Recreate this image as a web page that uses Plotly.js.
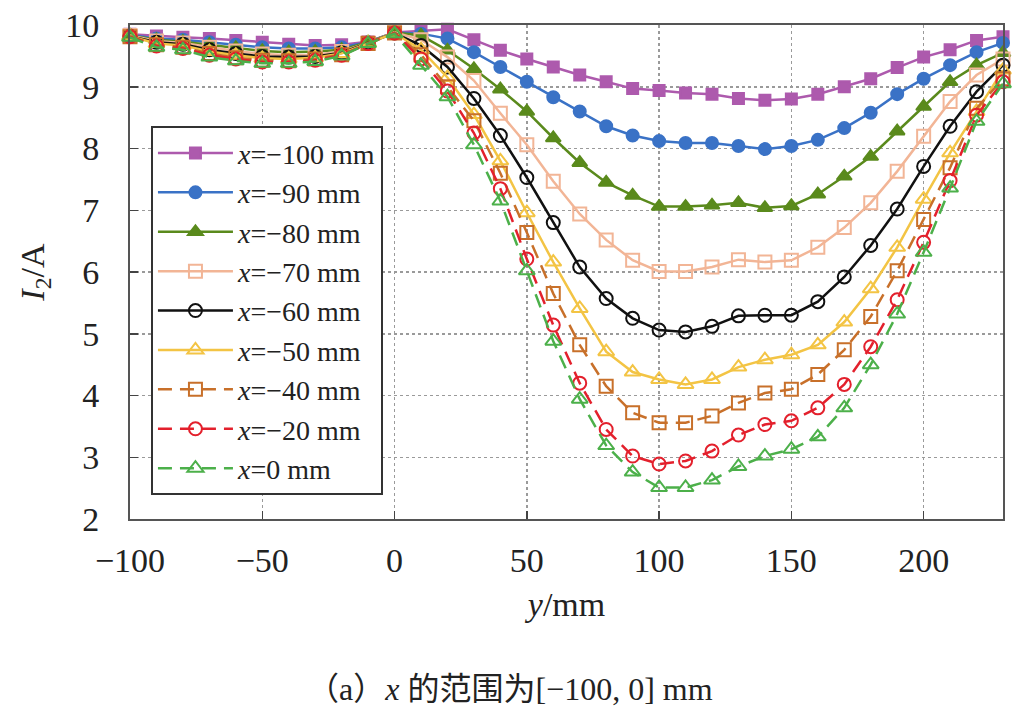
<!DOCTYPE html>
<html>
<head>
<meta charset="utf-8">
<script src="https://cdn.plot.ly/plotly-3.0.1.min.js"></script>
<style>html,body{margin:0;padding:0;background:#fff;}#chart{width:1031px;height:726px;}</style>
</head>
<body>
<div id="chart"></div>
<script>
// y positions (mm)
const yPos = [-100,-90,-80,-70,-60,-50,-40,-30,-20,-10,0,10,20,30,40,50,60,70,80,90,100,110,120,130,140,150,160,170,180,190,200,210,220,230];

// I2 (A) for each x position
const x_m100 = [9.85,9.82,9.80,9.78,9.75,9.72,9.69,9.67,9.68,9.73,9.88, 9.90,9.93,9.76,9.59,9.45,9.32,9.19,9.08,8.97,8.94,8.90,8.88,8.81,8.78,8.80,8.88,9.00,9.13,9.31,9.48,9.60,9.75,9.81];
const x_m90  = [9.84,9.78,9.76,9.72,9.68,9.64,9.62,9.62,9.64,9.72,9.88, 9.86,9.78,9.56,9.32,9.08,8.83,8.60,8.36,8.21,8.12,8.09,8.09,8.04,7.99,8.04,8.14,8.33,8.58,8.88,9.13,9.35,9.56,9.71];
const x_m80  = [9.83,9.76,9.73,9.68,9.63,9.58,9.56,9.57,9.60,9.72,9.88, 9.83,9.59,9.29,8.96,8.60,8.17,7.77,7.45,7.24,7.06,7.06,7.08,7.12,7.04,7.07,7.26,7.55,7.87,8.28,8.68,9.08,9.35,9.55];
const x_m70  = [9.83,9.74,9.71,9.64,9.58,9.53,9.51,9.52,9.57,9.71,9.88, 9.76,9.48,9.10,8.57,8.06,7.47,6.94,6.52,6.19,6.01,6.01,6.08,6.20,6.16,6.19,6.40,6.72,7.12,7.63,8.20,8.76,9.19,9.45];
const x_m60  = [9.82,9.72,9.69,9.60,9.54,9.49,9.48,9.49,9.55,9.71,9.87, 9.67,9.32,8.81,8.21,7.53,6.80,6.08,5.57,5.25,5.06,5.03,5.12,5.29,5.30,5.30,5.52,5.92,6.43,7.02,7.71,8.36,8.92,9.35];
const x_m50  = [9.82,9.70,9.67,9.57,9.51,9.46,9.45,9.47,9.54,9.71,9.87, 9.60,9.15,8.55,7.80,6.96,6.16,5.41,4.71,4.38,4.26,4.18,4.26,4.46,4.58,4.66,4.82,5.19,5.73,6.40,7.18,7.93,8.60,9.27];
const x_m40  = [9.81,9.68,9.64,9.54,9.47,9.43,9.42,9.45,9.52,9.70,9.87, 9.52,9.00,8.45,7.60,6.64,5.65,4.82,4.15,3.72,3.56,3.56,3.67,3.88,4.04,4.10,4.34,4.74,5.28,6.02,6.85,7.69,8.65,9.13];
const x_m20  = [9.81,9.66,9.62,9.51,9.45,9.40,9.40,9.43,9.51,9.70,9.87, 9.45,8.93,8.25,7.35,6.21,5.14,4.20,3.45,3.02,2.89,2.94,3.10,3.36,3.53,3.59,3.80,4.18,4.79,5.55,6.48,7.48,8.54,9.08];
const x_0    = [9.80,9.64,9.60,9.48,9.42,9.38,9.38,9.41,9.50,9.70,9.86, 9.35,8.84,8.06,7.15,6.02,4.88,3.94,3.19,2.76,2.51,2.51,2.63,2.85,3.02,3.13,3.33,3.80,4.50,5.32,6.32,7.36,8.44,9.05];

const seriesNames = ['<i>x</i>=−100 mm','<i>x</i>=−90 mm','<i>x</i>=−80 mm','<i>x</i>=−70 mm','<i>x</i>=−60 mm','<i>x</i>=−50 mm','<i>x</i>=−40 mm','<i>x</i>=−20 mm','<i>x</i>=0 mm'];
const xTickVals = [-100,-50,0,50,100,150,200];
const yTickVals = [2,3,4,5,6,7,8,9,10];

const seriesData = [x_m100,x_m90,x_m80,x_m70,x_m60,x_m50,x_m40,x_m20,x_0];
const styles = [
  {color:'#ad5aad', symbol:'square', dash:'solid', size:11},
  {color:'#3a72c6', symbol:'circle', dash:'solid', size:12},
  {color:'#5a8a1c', symbol:'triangle-up', dash:'solid', size:13},
  {color:'#f2b596', symbol:'square-open', dash:'solid', size:13},
  {color:'#111111', symbol:'circle-open', dash:'solid', size:13},
  {color:'#f3c444', symbol:'triangle-up-open', dash:'solid', size:14},
  {color:'#c8702a', symbol:'square-open', dash:'14px,8px', size:13},
  {color:'#e3202c', symbol:'circle-open', dash:'14px,8px', size:13},
  {color:'#4cb04a', symbol:'triangle-up-open', dash:'14px,8px', size:14}
];

const serif = '"Liberation Serif", "Times New Roman", "Noto Sans CJK SC", serif';

const traces = seriesData.map((vals, i) => ({
  type:'scatter', mode:'lines+markers', name: seriesNames[i],
  x: yPos, y: vals,
  line:{color: styles[i].color, width:2.5, dash: styles[i].dash},
  marker:{symbol: styles[i].symbol, size: styles[i].size, color: styles[i].color,
          line:{color: styles[i].color, width:2}},
  cliponaxis:false
}));

const layout = {
  width:1031, height:726,
  paper_bgcolor:'#fff', plot_bgcolor:'#fff',
  margin:{l:130, r:28, t:25, b:207},
  font:{family: serif, color:'#222', size:34},
  xaxis:{
    range:[-100,230], tickvals:xTickVals, ticks:'inside', ticklen:8, tickwidth:1.5, tickcolor:'#444',
    showline:true, linecolor:'#555', linewidth:2, mirror:true,
    showgrid:true, gridcolor:'#9a9a9a', griddash:'dot', gridwidth:1.5,
    zeroline:false, ticklabelstandoff:10,
    tickfont:{size:34, family: serif, color:'#222'},
    title:{text:'<i>y</i>/mm', font:{size:34, family: serif, color:'#222'}, standoff:14}
  },
  yaxis:{
    range:[2,10], tickvals:yTickVals, ticks:'inside', ticklen:8, tickwidth:1.5, tickcolor:'#444',
    showline:true, linecolor:'#555', linewidth:2, mirror:true,
    showgrid:true, gridcolor:'#9a9a9a', griddash:'dot', gridwidth:1.5,
    zeroline:false, ticklabelstandoff:22,
    tickfont:{size:34, family: serif, color:'#222'},
    title:{text:'<i>I</i><sub>2</sub>/A', font:{size:34, family: serif, color:'#222'}, standoff:10}
  },
  legend:{
    x:0.024, y:0.795, xanchor:'left', yanchor:'top',
    bgcolor:'#fff', bordercolor:'#333', borderwidth:2,
    font:{size:28, family: serif, color:'#222'},
    itemwidth:75, tracegroupgap:0
  },
  showlegend:true,
  annotations:[{
    text:'（a）<i>x</i> 的范围为[−100, 0] mm',
    xref:'paper', yref:'paper', x:0.435, y:-0.345, xanchor:'center', yanchor:'middle',
    showarrow:false, font:{size:32, family: serif, color:'#222'}
  }]
};

Plotly.newPlot('chart', traces, layout, {displayModeBar:false, staticPlot:true});
</script>
</body>
</html>
